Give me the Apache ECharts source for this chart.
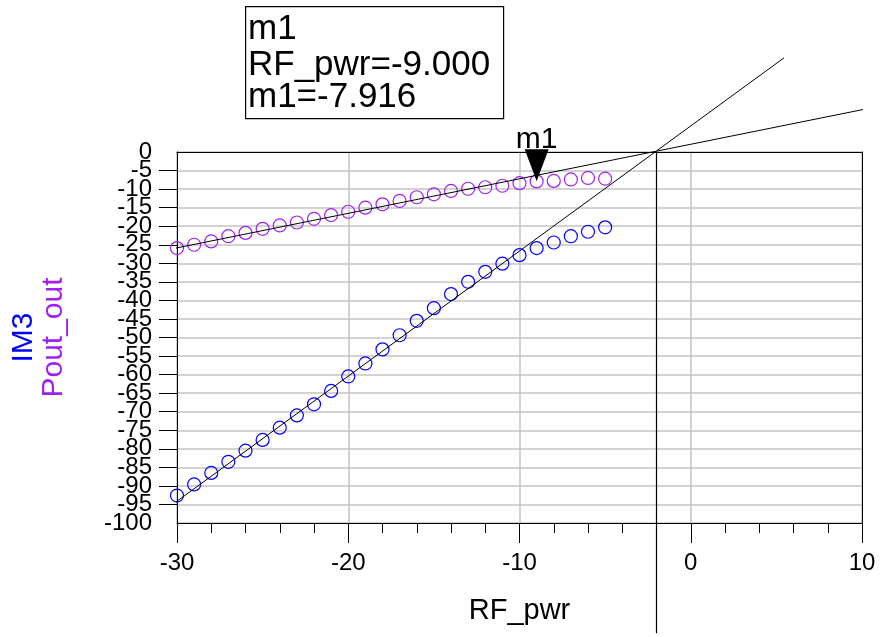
<!DOCTYPE html>
<html>
<head>
<meta charset="utf-8">
<script src="https://cdn.jsdelivr.net/npm/echarts@6/dist/echarts.min.js"></script>
<style>html,body{margin:0;padding:0;background:#fff;}#c{width:885px;height:637px;}</style>
</head>
<body>
<div id="c"></div>
<script>
// ---- data ----
var rfPwr = [-30,-29,-28,-27,-26,-25,-24,-23,-22,-21,-20,-19,-18,-17,-16,-15,-14,-13,-12,-11,-10,-9,-8,-7,-6,-5];
var poutOut = [-25.9,-25.0,-24.1,-22.7,-21.8,-20.7,-19.8,-19.0,-18.0,-17.0,-16.1,-15.0,-14.1,-13.2,-12.2,-11.4,-10.5,-9.9,-9.5,-9.1,-8.4,-7.916,-7.8,-7.4,-7.0,-7.2];
var im3 = [-92.6,-89.6,-86.5,-83.5,-80.5,-77.6,-74.3,-71.0,-68.0,-64.4,-60.5,-57.0,-53.2,-49.4,-45.5,-42.1,-38.3,-35.0,-32.3,-30.1,-27.8,-25.9,-24.4,-22.7,-21.5,-20.3];
var poutFitX = [-30.6, 11.3];
var poutFitY = [-26.4, 12.6];
var im3FitX = [-30.05, 5.45];
var im3FitY = [-94.3, 25.4];
var interceptX = [-2, -2];
var interceptY = [0, -129.7];
var markerName = 'm1';
var markerX = -9.0;
var markerY = -7.916;
var xTicks = [-30, -20, -10, 0, 10];
var yMin = -100, yMax = 0;
var yTickStep = 5;

function pairs(xs, ys) { return xs.map(function (x, i) { return [x, ys[i]]; }); }

var FONT = 'Liberation Sans, Arial, sans-serif';
var PURPLE = '#A020F0';
var BLUE = '#0000FF';
var yLabelStyle = {fontSize: 24, color: '#000', margin: 25, fontFamily: FONT, hideOverlap: false};

var chart = echarts.init(document.getElementById('c'), null, {renderer: 'canvas'});
chart.setOption({
  animation: false,
  backgroundColor: '#fff',
  textStyle: {fontFamily: FONT},
  grid: {left: 177, right: 23, top: 152, bottom: 114, containLabel: false},
  xAxis: [{
    type: 'value', min: xTicks[0], max: xTicks[xTicks.length - 1], interval: 10,
    name: 'RF_pwr', nameLocation: 'middle', nameGap: 73,
    nameTextStyle: {fontSize: 29, color: '#000', fontFamily: FONT},
    axisLine: {show: true, onZero: false, lineStyle: {color: '#000', width: 1}},
    axisTick: {show: true, length: 20, lineStyle: {color: '#000'}},
    minorTick: {show: true, splitNumber: 5, length: 10, lineStyle: {color: '#000'}},
    axisLabel: {fontSize: 24, color: '#000', margin: 28, fontFamily: FONT,
      showMinLabel: true, showMaxLabel: true, hideOverlap: false},
    splitLine: {show: true, lineStyle: {color: '#c4c4c4', width: 1.5}}
  }, {
    type: 'value', min: xTicks[0], max: xTicks[xTicks.length - 1], position: 'top',
    axisLine: {show: true, onZero: false, lineStyle: {color: '#000', width: 1}},
    axisTick: {show: false}, axisLabel: {show: false}, splitLine: {show: false}
  }],
  yAxis: [{
    type: 'value', min: yMin, max: yMax, interval: yTickStep,
    name: '{a|IM3}\n{b|Pout_out}', nameLocation: 'middle', nameRotate: 90, nameGap: 108,
    nameTextStyle: {
      fontFamily: FONT, lineHeight: 30,
      rich: {
        a: {fontSize: 30, color: BLUE, fontFamily: FONT, lineHeight: 30},
        b: {fontSize: 30, color: PURPLE, fontFamily: FONT, lineHeight: 30}
      }
    },
    axisLine: {show: true, onZero: false, lineStyle: {color: '#000', width: 1}},
    axisTick: {show: true, length: 18, lineStyle: {color: '#000'}},
    axisLabel: Object.assign({showMinLabel: false, showMaxLabel: false}, yLabelStyle),
    splitLine: {show: true, lineStyle: {color: '#c4c4c4', width: 1.5}}
  }, {
    type: 'value', min: yMin, max: yMax, position: 'right',
    axisLine: {show: true, onZero: false, lineStyle: {color: '#000', width: 1}},
    axisTick: {show: false}, axisLabel: {show: false}, splitLine: {show: false}
  }, {
    type: 'value', min: yMin, max: yMax, interval: yMax - yMin, position: 'left', offset: 0,
    axisLine: {show: false}, axisTick: {show: false}, splitLine: {show: false},
    axisLabel: Object.assign({showMinLabel: true, showMaxLabel: true}, yLabelStyle)
  }],
  series: [
    {
      type: 'scatter', name: 'Pout_out', data: pairs(rfPwr, poutOut),
      symbol: 'circle', symbolSize: 13,
      itemStyle: {color: 'rgba(0,0,0,0)', borderColor: PURPLE, borderWidth: 1.2, opacity: 1},
      z: 3
    },
    {
      type: 'scatter', name: 'IM3', data: pairs(rfPwr, im3),
      symbol: 'circle', symbolSize: 13,
      itemStyle: {color: 'rgba(0,0,0,0)', borderColor: BLUE, borderWidth: 1.2, opacity: 1},
      z: 3
    },
    {
      type: 'line', data: pairs(poutFitX, poutFitY), clip: false, showSymbol: false, symbol: 'none',
      lineStyle: {color: '#000', width: 1}, z: 4
    },
    {
      type: 'line', data: pairs(im3FitX, im3FitY), clip: false, showSymbol: false, symbol: 'none',
      lineStyle: {color: '#000', width: 1}, z: 4
    },
    {
      type: 'line', data: pairs(interceptX, interceptY), clip: false, showSymbol: false, symbol: 'none',
      lineStyle: {color: '#000', width: 1.2}, z: 4
    },
    {
      type: 'scatter', data: [[markerX, markerY]], clip: false,
      symbol: 'path://M0,0L24,0L12,32Z', symbolSize: [24, 32], symbolOffset: [0, -16],
      itemStyle: {color: '#000', opacity: 1},
      label: {show: true, position: 'top', distance: 1, offset: [0, 6], formatter: markerName,
        fontSize: 30, color: '#000', fontFamily: FONT},
      z: 6
    }
  ],
  graphic: [
    {type: 'rect', left: 245, top: 6, shape: {width: 258, height: 112},
      style: {fill: '#fff', stroke: '#000', lineWidth: 1.2}, z: 10},
    {type: 'text', left: 248, top: 12, z: 11,
      style: {text: markerName, font: '35px ' + FONT, fill: '#000'}},
    {type: 'text', left: 248, top: 48, z: 11,
      style: {text: 'RF_pwr=' + markerX.toFixed(3), font: '35px ' + FONT, fill: '#000'}},
    {type: 'text', left: 248, top: 80, z: 11,
      style: {text: markerName + '=' + markerY.toFixed(3), font: '35px ' + FONT, fill: '#000'}}
  ]
});
</script>
</body>
</html>
